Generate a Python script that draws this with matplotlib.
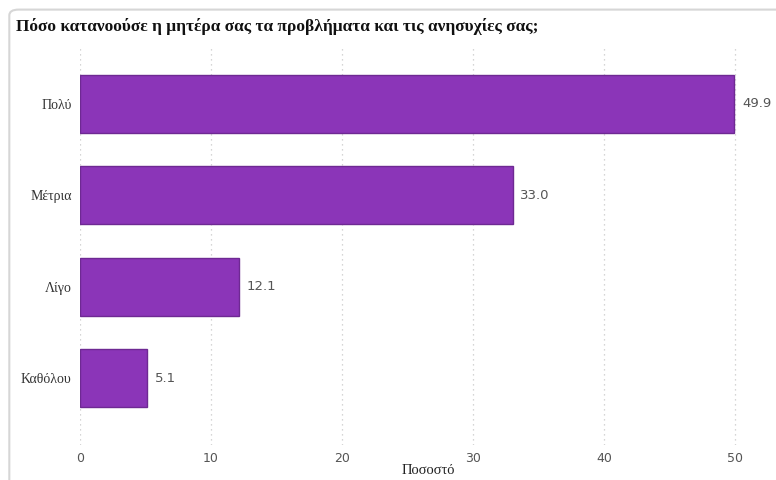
import matplotlib.pyplot as plt
from matplotlib.patches import FancyBboxPatch

# survey answers and their shares (%)
categories = ['Πολύ', 'Μέτρια', 'Λίγο', 'Καθόλου']
values = [49.9, 33.0, 12.1, 5.1]
ticks = [0, 10, 20, 30, 40, 50]

bar_color = '#8B35B8'
edge_color = '#6E2993'
text_grey = '#555555'

fig = plt.figure(figsize=(7.76, 4.80), dpi=100)

# card outline behind the chart
card = FancyBboxPatch((0.012, -0.05), 1.05, 1.03, transform=fig.transFigure,
                      boxstyle='round,pad=0,rounding_size=0.012',
                      facecolor='none', edgecolor='#d6d6d6', linewidth=1.5)
fig.patches.append(card)

fig.text(0.02, 0.945, 'Πόσο κατανοούσε η μητέρα σας τα προβλήματα και τις ανησυχίες σας;',
         family='Liberation Serif', fontweight='bold', fontsize=12.5, color='#111111',
         va='center', ha='left')

ax = fig.add_axes([0.1031, 0.0729, 0.8969, 0.833])
y = range(len(categories))
bars = ax.barh(y, values, height=0.63, color=bar_color, edgecolor=edge_color, linewidth=1)

for yi, v in zip(y, values):
    ax.text(v + 0.6, yi, f'{v:.1f}', va='center', ha='left',
            fontsize=9.5, color=text_grey, family='DejaVu Sans')

ax.set_xlim(0, 53.1)
ax.set_ylim(3.73, -0.64)
ax.set_yticks(list(y))
ax.set_yticklabels(categories, family='Liberation Serif', fontsize=10, color='#333333')
ax.set_xticks(ticks)
ax.set_xticklabels([str(t) for t in ticks], family='DejaVu Sans', fontsize=9, color=text_grey)
ax.tick_params(axis='both', length=0)
ax.tick_params(axis='x', pad=5)
ax.tick_params(axis='y', pad=6)
ax.set_xlabel('Ποσοστό', family='Liberation Serif', fontsize=10.5, color='#222222', labelpad=-1)

ax.grid(axis='x', linestyle=(0, (1, 3)), color='#c8c8c8', linewidth=0.9)
ax.set_axisbelow(True)
for s in ax.spines.values():
    s.set_visible(False)

fig.savefig('out.png', dpi=100)
